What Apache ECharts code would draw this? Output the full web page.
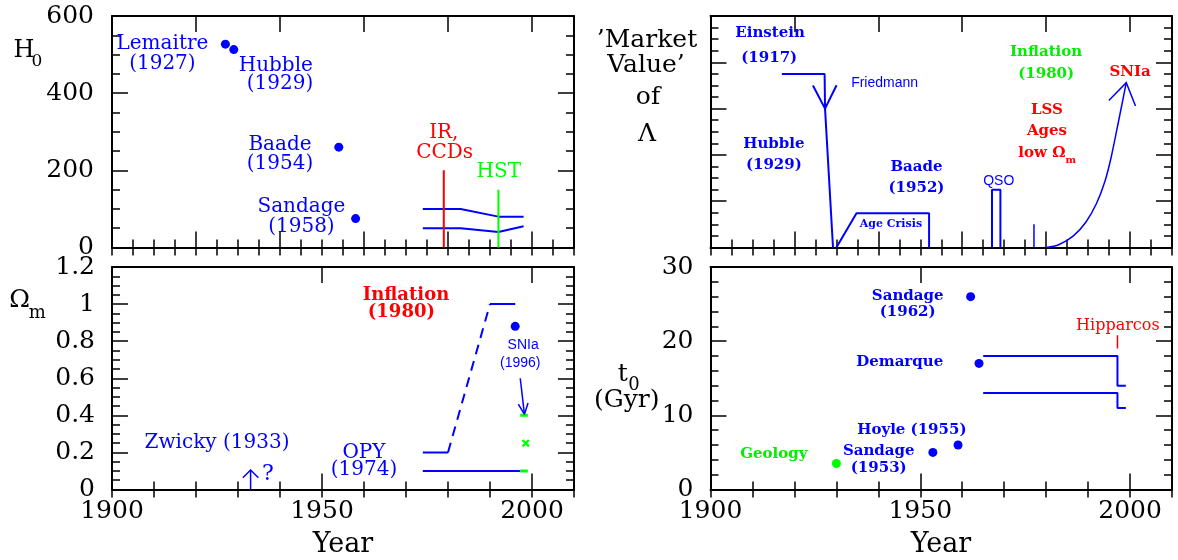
<!DOCTYPE html>
<html>
<head>
<meta charset="utf-8">
<script src="https://cdn.jsdelivr.net/npm/echarts@6/dist/echarts.min.js"></script>
<style>
  html, body { margin: 0; padding: 0; background: #fff; }
  #chart { width: 1178px; height: 560px; }
</style>
</head>
<body>
<div id="chart"></div>
<script>
// ---------- H0 (km/s/Mpc) ----------
const h0Points = [[1927, 527], [1929, 513], [1954, 260], [1958, 75]];
const h0Upper = [[1974, 100], [1983, 100], [1992, 80], [1998, 80]];
const h0Lower = [[1974, 50], [1983, 50], [1992, 40], [1998, 55]];
const irCcdLine = [[1979, 0], [1979, 200]];
const hstLine = [[1992, 0], [1992, 150]];

// ---------- Omega_m ----------
const omStepLow = [[1974, 0.2], [1980, 0.2]];
const omRise = [[1980, 0.2], [1990, 1.0]];
const omFlat = [[1990, 1.0], [1996, 1.0]];
const omOpy = [[1974, 0.1], [1997.2, 0.1]];
const omSnDot = [[1996, 0.88]];
const omGreenHigh = [[1997.2, 0.4], [1999, 0.4]];
const omGreenLow = [[1997.2, 0.1], [1999, 0.1]];
const omGreenCross = [[1998.5, 0.25]];
const omSnArrow = [[1997.2, 0.6], [1998.2, 0.405]];
const zwickyArrow = [[1933, 0], [1933, 0.105]];

// ---------- 'Market value' of Lambda ----------
const lamEinstein = [[1917, 0.75], [1927.2, 0.75], [1927.3, 0.6], [1929.2, 0]];
const lamAgeCrisis = [[1930, 0], [1934.8, 0.148], [1952.1, 0.148], [1952.1, 0]];
const lamQso = [[1967.1, 0], [1967.1, 0.25], [1969.1, 0.25], [1969.1, 0]];
const lamSpike = [[1977.1, 0], [1977.1, 0.1]];
const lamRise = [[1980, 0], [1983, 0.012], [1986.5, 0.05], [1989.5, 0.11], [1992, 0.19],
                 [1994, 0.285], [1995.5, 0.39], [1997.2, 0.54], [1999.1, 0.712]];

// ---------- t0 (Gyr) ----------
const t0Points = [[1962, 26], [1964, 17], [1959, 6], [1953, 5]];
const t0Geology = [[1930, 3.5]];
const t0Upper = [[1965, 18], [1997, 18], [1997, 14], [1999, 14]];
const t0Lower = [[1965, 13], [1997, 13], [1997, 11], [1999, 11]];
const hipparcosMark = [[1997, 19], [1997, 20.8]];

// ---------- axis ranges ----------
const yearRange = [1900, 2010];
const h0Range = [0, 600];
const omRange = [0, 1.2];
const lamRange = [0, 1];
const t0Range = [0, 30];

const BLUE = '#0000ff', RED = '#ff0000', GREEN = '#00ee00', LIME = '#00ff00';
const SERIF = '"DejaVu Serif"';
const SANS = '"Liberation Sans"';

// grid order: 0 = H0, 1 = Omega_m, 2 = Lambda, 3 = t0
const grids = [
  { left: 112, top: 16, width: 462, height: 231.5 },
  { left: 112, top: 267, width: 462, height: 222.5 },
  { left: 710.5, top: 16, width: 461.5, height: 231.5 },
  { left: 710.5, top: 267, width: 461.5, height: 222.5 }
];

const frameLine = { show: true, onZero: false, lineStyle: { color: '#000', width: 2 } };
const tickStyle = { color: '#000', width: 1.5 };

// each grid gets a long-tick and a short-tick x axis on both the bottom and the top edge
function makeXAxes(gi, minorStep, majorStep, withLabels) {
  const base = { type: 'value', gridIndex: gi, min: yearRange[0], max: yearRange[1],
                 splitLine: { show: false }, silent: true };
  const axes = [];
  ['bottom', 'top'].forEach(pos => {
    const labelled = withLabels && pos === 'bottom';
    axes.push(Object.assign({}, base, {
      position: pos, interval: majorStep,
      axisLine: frameLine,
      axisTick: { show: true, inside: true, length: 16, lineStyle: tickStyle },
      axisLabel: labelled ? {
        show: true, margin: 9, color: '#000', fontFamily: 'DejaVu Serif', fontSize: 25,
        showMaxLabel: false,
        formatter: v => (v % 50 === 0 ? String(v) : '')
      } : { show: false }
    }));
    axes.push(Object.assign({}, base, {
      position: pos, interval: minorStep,
      axisLine: { show: false },
      axisTick: { show: true, inside: true, length: 8, lineStyle: tickStyle },
      axisLabel: { show: false }
    }));
  });
  return axes;
}

function makeYAxes(gi, range, interval, minorSplit, withLabels, labelMargin) {
  const base = { type: 'value', gridIndex: gi, min: range[0], max: range[1], interval: interval,
                 splitLine: { show: false }, minorSplitLine: { show: false }, silent: true,
                 axisLine: frameLine,
                 axisTick: { show: true, inside: true, length: 16, lineStyle: tickStyle },
                 minorTick: { show: true, splitNumber: minorSplit, length: 8, lineStyle: tickStyle } };
  return [
    Object.assign({}, base, {
      position: 'left',
      axisLabel: withLabels ? { show: true, margin: labelMargin, color: '#000',
                                fontFamily: 'DejaVu Serif', fontSize: 25 } : { show: false }
    }),
    Object.assign({}, base, { position: 'right', axisLabel: { show: false } })
  ];
}

const xAxes = [].concat(
  makeXAxes(0, 5, 20, false),
  makeXAxes(1, 10, 50, true),
  makeXAxes(2, 5, 20, false),
  makeXAxes(3, 10, 50, true)
);
const yAxes = [].concat(
  makeYAxes(0, h0Range, 200, 4, true, 18),
  makeYAxes(1, omRange, 0.2, 4, true, 17),
  makeYAxes(2, lamRange, 0.2, 4, false, 0),
  makeYAxes(3, t0Range, 10, 5, true, 17)
);

function lineSeries(gi, data, color, width, extra) {
  return Object.assign({
    type: 'line', xAxisIndex: 4 * gi, yAxisIndex: 2 * gi, data: data,
    symbol: 'none', showSymbol: false, silent: true,
    lineStyle: { color: color, width: width }
  }, extra || {});
}

function dotSeries(gi, data, color, size) {
  return {
    type: 'scatter', xAxisIndex: 4 * gi, yAxisIndex: 2 * gi, data: data,
    symbol: 'circle', symbolSize: size, silent: true,
    itemStyle: { color: color, opacity: 1 }
  };
}

// open "V" arrow heads; each item is [from, tip] along the shaft
function arrowHeads(gi, pairs, len, halfAngle, color, width) {
  return {
    type: 'custom', xAxisIndex: 4 * gi, yAxisIndex: 2 * gi, silent: true,
    dimensions: ['x0', 'y0', 'x1', 'y1'],
    encode: { x: [0, 2], y: [1, 3] },
    data: pairs.map(p => [p[0][0], p[0][1], p[1][0], p[1][1]]),
    renderItem: function (params, api) {
      const a = api.coord([api.value(0), api.value(1)]);
      const b = api.coord([api.value(2), api.value(3)]);
      const ang = Math.atan2(a[1] - b[1], a[0] - b[0]);
      const h = halfAngle * Math.PI / 180;
      const p1 = [b[0] + len * Math.cos(ang + h), b[1] + len * Math.sin(ang + h)];
      const p2 = [b[0] + len * Math.cos(ang - h), b[1] + len * Math.sin(ang - h)];
      return { type: 'polyline', shape: { points: [p1, b, p2] },
               style: { stroke: color, lineWidth: width, fill: null } };
    }
  };
}

const crossPath = 'path://M0,2 L2,0 L5,3 L8,0 L10,2 L7,5 L10,8 L8,10 L5,7 L2,10 L0,8 L3,5 Z';

const series = [
  // H0
  dotSeries(0, h0Points, BLUE, 9),
  lineSeries(0, h0Upper, BLUE, 2),
  lineSeries(0, h0Lower, BLUE, 2),
  lineSeries(0, irCcdLine, RED, 2),
  lineSeries(0, hstLine, LIME, 2),
  // Omega_m
  lineSeries(1, omStepLow, BLUE, 2),
  lineSeries(1, omRise, BLUE, 2, { lineStyle: { color: BLUE, width: 2, type: [10, 7] } }),
  lineSeries(1, omFlat, BLUE, 2),
  lineSeries(1, omOpy, BLUE, 2),
  dotSeries(1, omSnDot, BLUE, 9),
  lineSeries(1, omGreenHigh, LIME, 3),
  lineSeries(1, omGreenLow, LIME, 3),
  { type: 'scatter', xAxisIndex: 4, yAxisIndex: 2, data: omGreenCross, symbol: crossPath,
    symbolSize: 8, silent: true, itemStyle: { color: LIME, opacity: 1 } },
  lineSeries(1, omSnArrow, BLUE, 1.5),
  arrowHeads(1, [omSnArrow], 12, 24, BLUE, 1.5),
  lineSeries(1, zwickyArrow, BLUE, 1.5),
  arrowHeads(1, [zwickyArrow], 11, 45, BLUE, 1.5),
  // Lambda
  lineSeries(2, lamEinstein, BLUE, 2),
  arrowHeads(2, [[lamEinstein[1], lamEinstein[2]]], 26, 27, BLUE, 2),
  lineSeries(2, lamAgeCrisis, BLUE, 2),
  lineSeries(2, lamQso, BLUE, 2),
  lineSeries(2, lamSpike, BLUE, 1.5),
  lineSeries(2, lamRise, BLUE, 1.5, { smooth: 0.3 }),
  arrowHeads(2, [[lamRise[lamRise.length - 2], lamRise[lamRise.length - 1]]], 25, 33, BLUE, 1.5),
  // t0
  dotSeries(3, t0Points, BLUE, 9),
  dotSeries(3, t0Geology, LIME, 9),
  lineSeries(3, t0Upper, BLUE, 2),
  lineSeries(3, t0Lower, BLUE, 2),
  lineSeries(3, hipparcosMark, RED, 1.5)
];

const chart = echarts.init(document.getElementById('chart'), null, { renderer: 'canvas' });
chart.setOption({
  animation: false,
  backgroundColor: '#ffffff',
  grid: grids,
  xAxis: xAxes,
  yAxis: yAxes,
  series: series
});

// ---------- annotations, anchored in data coordinates ----------
const serif20 = '20px ' + SERIF;
const boldSerif15 = 'bold 15px ' + SERIF;
const sans14 = '14px ' + SANS;
const notes = [
  // H0 panel
  { g: 0, at: [1912.0, 527], text: 'Lemaitre', font: serif20, color: BLUE },
  { g: 0, at: [1912.0, 477], text: '(1927)', font: serif20, color: BLUE },
  { g: 0, at: [1939.0, 471], text: 'Hubble', font: serif20, color: BLUE },
  { g: 0, at: [1940.0, 423], text: '(1929)', font: serif20, color: BLUE },
  { g: 0, at: [1940.0, 265], text: 'Baade', font: serif20, color: BLUE },
  { g: 0, at: [1940.0, 218], text: '(1954)', font: serif20, color: BLUE },
  { g: 0, at: [1945.1, 105], text: 'Sandage', font: serif20, color: BLUE },
  { g: 0, at: [1945.1, 53], text: '(1958)', font: serif20, color: BLUE },
  { g: 0, at: [1979.0, 296], text: 'IR,', font: serif20, color: RED },
  { g: 0, at: [1979.2, 246], text: 'CCDs', font: serif20, color: RED },
  { g: 0, at: [1992.1, 196], text: 'HST', font: serif20, color: LIME },
  // Omega_m panel
  { g: 1, at: [1925.0, 0.252], text: 'Zwicky (1933)', font: serif20, color: BLUE },
  { g: 1, at: [1937.1, 0.083], text: '?', font: '22px ' + SERIF, color: BLUE },
  { g: 1, at: [1960.0, 0.200], text: 'OPY', font: serif20, color: BLUE },
  { g: 1, at: [1960.0, 0.105], text: '(1974)', font: serif20, color: BLUE },
  { g: 1, at: [1970.0, 1.045], text: 'Inflation', font: 'bold 18px ' + SERIF, color: RED },
  { g: 1, at: [1968.9, 0.956], text: '(1980)', font: 'bold 18px ' + SERIF, color: RED },
  { g: 1, at: [1997.9, 0.776], text: 'SNIa', font: sans14, color: BLUE },
  { g: 1, at: [1997.2, 0.684], text: '(1996)', font: sans14, color: BLUE },
  // Lambda panel
  { g: 2, at: [1914.2, 0.925], text: 'Einstein', font: boldSerif15, color: BLUE },
  { g: 2, at: [1914.0, 0.818], text: '(1917)', font: boldSerif15, color: BLUE },
  { g: 2, at: [1941.5, 0.710], text: 'Friedmann', font: sans14, color: BLUE },
  { g: 2, at: [1915.1, 0.447], text: 'Hubble', font: boldSerif15, color: BLUE },
  { g: 2, at: [1915.1, 0.355], text: '(1929)', font: boldSerif15, color: BLUE },
  { g: 2, at: [1949.1, 0.346], text: 'Baade', font: boldSerif15, color: BLUE },
  { g: 2, at: [1949.1, 0.258], text: '(1952)', font: boldSerif15, color: BLUE },
  { g: 2, at: [1943.0, 0.100], text: 'Age Crisis', font: 'bold 11px ' + SERIF, color: BLUE },
  { g: 2, at: [1968.7, 0.287], text: 'QSO', font: sans14, color: BLUE },
  { g: 2, at: [1980.0, 0.846], text: 'Inflation', font: boldSerif15, color: GREEN },
  { g: 2, at: [1980.0, 0.750], text: '(1980)', font: boldSerif15, color: GREEN },
  { g: 2, at: [2000.0, 0.757], text: 'SNIa', font: boldSerif15, color: RED },
  { g: 2, at: [1980.2, 0.594], text: 'LSS', font: boldSerif15, color: RED },
  { g: 2, at: [1980.2, 0.503], text: 'Ages', font: boldSerif15, color: RED },
  { g: 2, at: [1979.0, 0.407], text: 'low \u03A9', font: boldSerif15, color: RED },
  { g: 2, at: [1985.9, 0.376], text: 'm', font: 'bold 10px ' + SERIF, color: RED },
  // t0 panel
  { g: 3, at: [1947.0, 26.1], text: 'Sandage', font: boldSerif15, color: BLUE },
  { g: 3, at: [1947.0, 23.9], text: '(1962)', font: boldSerif15, color: BLUE },
  { g: 3, at: [1945.1, 17.15], text: 'Demarque', font: boldSerif15, color: BLUE },
  { g: 3, at: [1997.1, 22.1], text: 'Hipparcos', font: '16px ' + SERIF, color: RED },
  { g: 3, at: [1948.0, 8.0], text: 'Hoyle (1955)', font: boldSerif15, color: BLUE },
  { g: 3, at: [1940.1, 5.2], text: 'Sandage', font: boldSerif15, color: BLUE },
  { g: 3, at: [1940.1, 2.95], text: '(1953)', font: boldSerif15, color: BLUE },
  { g: 3, at: [1915.1, 4.8], text: 'Geology', font: boldSerif15, color: GREEN }
];

// axis titles, placed in page pixels
const titles = [
  { xy: [24, 51], text: 'H', font: '24px ' + SERIF },
  { xy: [37, 62], text: '0', font: '17px ' + SERIF },
  { xy: [19.7, 300.8], text: '\u03A9', font: '25px ' + SERIF },
  { xy: [37.2, 313], text: 'm', font: '18px ' + SERIF },
  { xy: [343, 545], text: 'Year', font: '27px ' + SERIF },
  { xy: [941, 545], text: 'Year', font: '27px ' + SERIF },
  { xy: [647, 40.5], text: '\u2019Market', font: '25px ' + SERIF },
  { xy: [646, 65.5], text: 'Value\u2019', font: '25px ' + SERIF },
  { xy: [648, 97.5], text: 'of', font: '25px ' + SERIF },
  { xy: [647, 134], text: '\u039B', font: '25px ' + SERIF },
  { xy: [622.7, 374], text: 't', font: '25px ' + SERIF },
  { xy: [634, 385], text: '0', font: '18px ' + SERIF },
  { xy: [626.7, 400.7], text: '(Gyr)', font: '25px ' + SERIF }
];

function textEl(x, y, text, font, color) {
  return {
    type: 'text', x: x, y: y, silent: true, z: 100,
    style: { text: text, font: font, fill: color,
             textAlign: 'center', textVerticalAlign: 'middle',
             align: 'center', verticalAlign: 'middle' }
  };
}

const graphics = [];
notes.forEach(n => {
  const p = chart.convertToPixel({ xAxisIndex: 4 * n.g, yAxisIndex: 2 * n.g }, n.at);
  graphics.push(textEl(p[0], p[1], n.text, n.font, n.color));
});
titles.forEach(t => graphics.push(textEl(t.xy[0], t.xy[1], t.text, t.font, '#000')));
chart.setOption({ graphic: graphics });
</script>
</body>
</html>
